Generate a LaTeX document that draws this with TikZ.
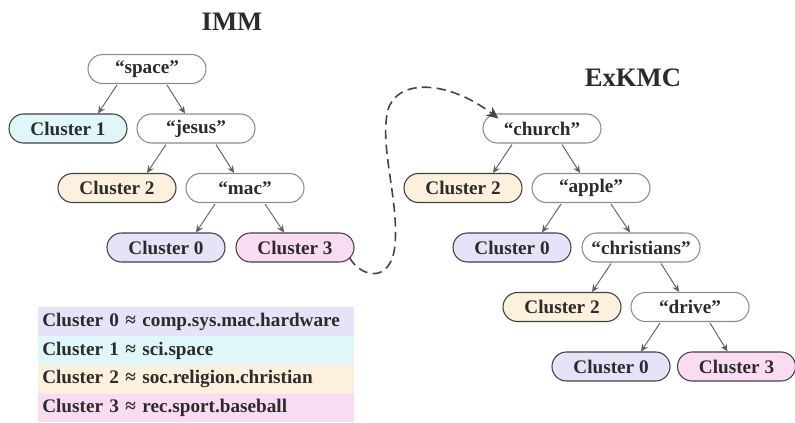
\documentclass[tikz,border=0pt]{standalone}
\usepackage{fontspec}
\setmainfont{Liberation Serif}
\usetikzlibrary{shapes.misc,arrows.meta,calc}
\definecolor{txt}{HTML}{2B2B2B}
\definecolor{wordborder}{HTML}{8C8C8C}
\definecolor{clborder}{HTML}{404040}
\definecolor{arrowgray}{HTML}{5E5E5E}
\definecolor{dashgray}{HTML}{444444}
\definecolor{czero}{HTML}{E5E3F8}
\definecolor{cone}{HTML}{DFF7F8}
\definecolor{ctwo}{HTML}{FDF0DD}
\definecolor{cthree}{HTML}{F9DCF1}
\tikzset{
  base/.style={rounded rectangle, minimum width=88.5pt, minimum height=21.75pt,
    inner sep=0pt, text=txt, line width=0.8pt,
    font=\fontsize{14.4}{16}\selectfont\bfseries},
  word/.style={base, draw=wordborder, fill=white},
  clzero/.style={base, draw=clborder, fill=czero},
  clone/.style={base, draw=clborder, fill=cone},
  cltwo/.style={base, draw=clborder, fill=ctwo},
  clthree/.style={base, draw=clborder, fill=cthree},
  edge/.style={-{Stealth[length=5.5pt,width=5pt]}, draw=arrowgray, line width=0.7pt},
  title/.style={text=txt, font=\fontsize{20}{24}\selectfont\bfseries},
  legrow/.style={rectangle, anchor=north west, minimum height=21.3pt,
    text width=231pt, inner xsep=3pt, inner ysep=0pt, align=left, text=txt,
    font=\fontsize{14.4}{16}\selectfont\bfseries}
}
\begin{document}
\begin{tikzpicture}[x=0.75pt,y=-0.75pt]
\useasboundingbox (0,0) rectangle (795,422);
% titles
\node[title] (immtitle) at (232,22) {IMM};
\node[title] (extitle) at (633,78) {ExKMC};
% IMM tree
\node[word] (space) at (147,69) {“space”};
\node[clone] (ca1) at (68,128.5) {Cluster 1};
\node[word] (jesus) at (196,128.5) {“jesus”};
\node[cltwo] (ca2) at (117,188) {Cluster 2};
\node[word] (mac) at (245,188) {“mac”};
\node[clzero] (ca0) at (166,247.5) {Cluster 0};
\node[clthree] (ca3) at (295,247.5) {Cluster 3};
\draw[edge] ($(space.south)+(-30,1)$) -- ($(ca1.north)+(30,0)$);
\draw[edge] ($(space.south)+(20,1)$) -- ($(jesus.north)+(-11,0)$);
\draw[edge] ($(jesus.south)+(-30,1)$) -- ($(ca2.north)+(30,0)$);
\draw[edge] ($(jesus.south)+(20,1)$) -- ($(mac.north)+(-11,0)$);
\draw[edge] ($(mac.south)+(-30,1)$) -- ($(ca0.north)+(30,0)$);
\draw[edge] ($(mac.south)+(20,1)$) -- ($(ca3.north)+(-11,0)$);
% ExKMC tree
\node[word] (church) at (542,128.5) {“church”};
\node[cltwo] (cb2) at (463,188) {Cluster 2};
\node[word] (apple) at (591,188) {“apple”};
\node[clzero] (cb0) at (512,247.5) {Cluster 0};
\node[word] (christians) at (641,247.5) {“christians”};
\node[cltwo] (cc2) at (562,307) {Cluster 2};
\node[word] (drive) at (690,307) {“drive”};
\node[clzero] (cd0) at (611,366.5) {Cluster 0};
\node[clthree] (cd3) at (736.5,366.5) {Cluster 3};
\draw[edge] ($(church.south)+(-30,1)$) -- ($(cb2.north)+(30,0)$);
\draw[edge] ($(church.south)+(20,1)$) -- ($(apple.north)+(-11,0)$);
\draw[edge] ($(apple.south)+(-30,1)$) -- ($(cb0.north)+(30,0)$);
\draw[edge] ($(apple.south)+(20,1)$) -- ($(christians.north)+(-11,0)$);
\draw[edge] ($(christians.south)+(-30,1)$) -- ($(cc2.north)+(30,0)$);
\draw[edge] ($(christians.south)+(20,1)$) -- ($(drive.north)+(-11,0)$);
\draw[edge] ($(drive.south)+(-30,1)$) -- ($(cd0.north)+(30,0)$);
\draw[edge] ($(drive.south)+(20,1)$) -- ($(cd3.north)+(-9,0)$);
% dashed connector
\coordinate (dstart) at ($(ca3.east)+(-5,10)$);
\coordinate (dend) at ($(church.north west)+(1,5)$);
\draw[dashgray, line width=1.2pt, dash pattern=on 7pt off 4pt,
  -{Stealth[length=9pt,width=8pt]}]
  (dstart) .. controls (360,277) and (391,285) .. (395,245)
  .. controls (399,200) and (379,145) .. (388,110)
  .. controls (396,80) and (445,78) .. (dend);
% legend
\node[legrow, fill=czero] (l0) at (38,307) {Cluster 0 ≈ comp.sys.mac.hardware};
\node[legrow, fill=cone, anchor=north west] (l1) at (l0.south west) {Cluster 1 ≈ sci.space};
\node[legrow, fill=ctwo, anchor=north west] (l2) at (l1.south west) {Cluster 2 ≈ soc.religion.christian};
\node[legrow, fill=cthree, anchor=north west] (l3) at (l2.south west) {Cluster 3 ≈ rec.sport.baseball};
\end{tikzpicture}
\end{document}
